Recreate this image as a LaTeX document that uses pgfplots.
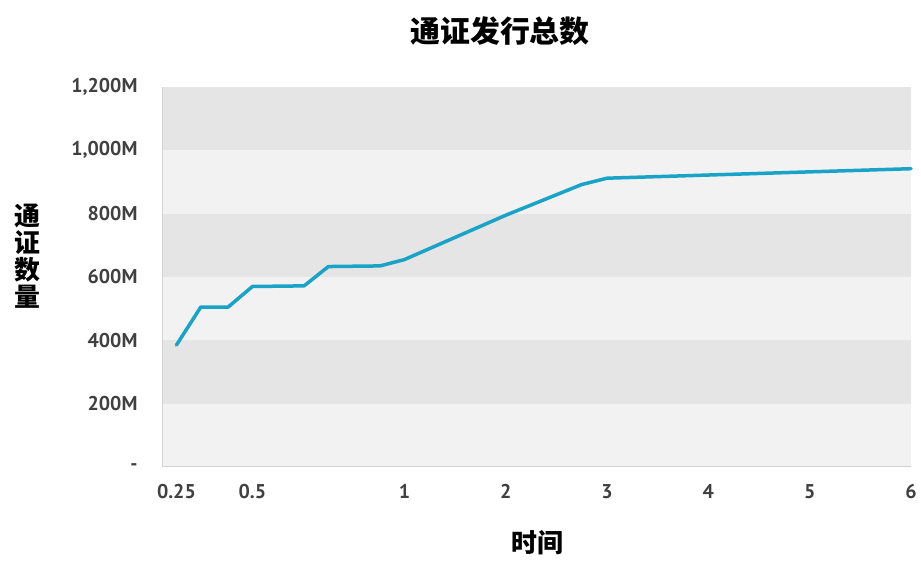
\documentclass[border=0pt]{standalone}
\usepackage{pgfplots}
\pgfplotsset{compat=1.18}
\usepackage{fontspec}
\setmainfont{PT Sans}
\newfontfamily\cjk{Noto Sans CJK SC}

\definecolor{bandDark}{HTML}{E5E5E5}
\definecolor{bandLight}{HTML}{F2F2F2}
\definecolor{lineBlue}{HTML}{18A3C7}
\definecolor{labelGray}{HTML}{404040}
\definecolor{frameGray}{HTML}{D2D2D2}

\begin{document}
\begin{tikzpicture}
\path[use as bounding box] (0,0) rectangle (921bp,561bp);
\begin{axis}[
  at={(162bp,94bp)}, anchor=south west,
  scale only axis, width=749bp, height=380bp,
  % time axis: first year stretched three times wider than the rest
  x coord trafo/.code={\pgfmathparse{(#1<=1) ? 3*#1 : #1+2}},
  xmin=0.2025, xmax=6, ymin=0, ymax=1200,
  xtick={0.25,0.5,1,2,3,4,5,6},
  xticklabels={0.25,0.5,1,2,3,4,5,6},
  ytick={0,200,400,600,800,1000,1200},
  yticklabels={-,200M,400M,600M,800M,{1,000M},{1,200M}},
  major tick length=0pt,
  axis line style={draw=none},
  /pgf/number format/assume math mode=true,
  tick label style={font=\bfseries\fontsize{20}{24}\selectfont, text=labelGray},
  yticklabel style={xshift=-21bp},
  xticklabel style={yshift=-14bp},
  clip=false,
]
% alternating horizontal bands
\fill[bandLight] (rel axis cs:0,0) rectangle (rel axis cs:1,1);
\fill[bandDark] (rel axis cs:0,0.1666667) rectangle (rel axis cs:1,0.3333333);
\fill[bandDark] (rel axis cs:0,0.5) rectangle (rel axis cs:1,0.6666667);
\fill[bandDark] (rel axis cs:0,0.8333333) rectangle (rel axis cs:1,1);
\draw[frameGray, line width=1bp] (rel axis cs:0,1) -- (rel axis cs:0,0) -- (rel axis cs:1,0);

\addplot[lineBlue, line width=3.5bp, line join=round, line cap=round] coordinates {
  (0.25,385) (0.33,505) (0.42,505) (0.5,570) (0.67,572) (0.75,633)
  (0.92,635) (1,655) (2,795) (2.75,892) (3,912) (4,922) (5,932) (6,942)
};
\end{axis}

\node[font=\cjk\bfseries\fontsize{30}{30}\selectfont] at (500bp,530bp) {通证发行总数};
\node[font=\cjk\bfseries\fontsize{26}{26}\selectfont] at (537bp,18bp) {时间};
\node[font=\cjk\bfseries\fontsize{26}{27}\selectfont, align=center] at (27bp,305bp) {通\\证\\数\\量};
\end{tikzpicture}
\end{document}
